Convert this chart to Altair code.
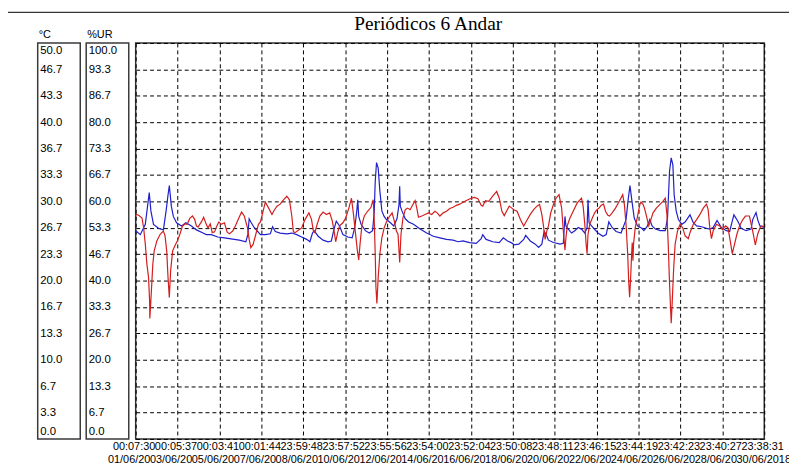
import json
import altair as alt
import pandas as pd

chart_title = "Periódicos 6 Andar"
unit_temp = "°C"
unit_hum = "%UR"

time_labels = ["00:07:30", "00:05:37", "00:03:41", "00:01:44", "23:59:48", "23:57:52",
               "23:55:56", "23:54:00", "23:52:04", "23:50:08", "23:48:11", "23:46:15",
               "23:44:19", "23:42:23", "23:40:27", "23:38:31"]
date_labels = ["01/06/2018", "03/06/2018", "05/06/2018", "07/06/2018", "08/06/2018",
               "10/06/2018", "12/06/2018", "14/06/2018", "16/06/2018", "18/06/2018",
               "20/06/2018", "22/06/2018", "24/06/2018", "26/06/2018", "28/06/2018",
               "30/06/2018"]

span_hours = 719.52   # 01/06 00:07:30 -> 30/06 23:38:31
n_div = 15
temp_max = 50
hum_max = 100

# temperature (blue), hours since start
temp_hours = [0, 5.3, 11.0, 13.6, 15.5, 17.4, 20.4, 26.1, 31.7, 34.8, 37.0, 38.5, 40.8, 43.1,
              46.8, 52.5, 57.4, 63.8, 69.5, 77.1, 80.8, 86.5, 94.0, 101.6, 107.3, 118.6, 126.1,
              128.4, 129.9, 131.8, 135.6, 141.3, 142.8, 148.4, 154.1, 156.7, 159.8, 165.4, 173.0,
              178.7, 184.3, 190.0, 195.7, 199.4, 202.4, 204.3, 208.9, 214.5, 220.2, 224.0, 226.6,
              229.6, 233.4, 237.2, 242.9, 247.8, 250.8, 253.1, 254.2, 255.3, 258.0, 262.9, 267.4,
              271.2, 273.1, 274.2, 275.7, 277.6, 279.5, 281.8, 284.4, 287.0, 291.6, 295.4, 299.1,
              301.4, 302.2, 302.9, 304.8, 308.6, 312.4, 318.0, 325.6, 333.1, 340.7, 348.2, 355.8,
              363.3, 369.0, 374.7, 382.2, 389.8, 395.5, 397.3, 401.1, 408.7, 416.2, 420.8, 425.7,
              431.3, 433.0, 438.5, 444.2, 446.4, 451.7, 457.4, 461.2, 464.9, 467.6, 469.9, 472.5,
              478.2, 485.7, 489.5, 491.4, 492.5, 495.2, 498.9, 502.7, 506.5, 510.3, 514.1, 516.7,
              517.8, 519.0, 523.5, 529.2, 534.8, 538.6, 541.6, 545.4, 549.9, 555.6, 561.3, 563.5,
              565.8, 568.1, 570.7, 574.5, 579.4, 581.7, 585.4, 588.5, 591.1, 594.9, 600.5, 606.2,
              608.8, 611.1, 613.0, 614.9, 616.4, 618.7, 621.3, 625.1, 628.9, 634.5, 638.3, 642.1,
              647.8, 653.4, 657.2, 661.0, 665.5, 670.4, 676.1, 679.9, 682.9, 684.8, 689.3, 693.1,
              698.7, 704.4, 706.3, 710.1, 712.0, 714.6, 719.5]
temp_c = [26.3, 25.8, 27.1, 29.4, 31.1, 28.8, 27.1, 26.6, 26.4, 28.8, 30.8, 32.0, 29.4, 28.1,
          27.3, 26.9, 27.3, 26.9, 26.4, 26.0, 25.8, 25.8, 25.5, 25.4, 25.3, 25.1, 24.9,
          25.8, 27.8, 27.4, 26.7, 26.0, 25.8, 25.8, 25.9, 26.8, 26.2, 26.0, 25.9,
          26.0, 25.8, 25.5, 25.2, 24.9, 26.0, 26.3, 25.6, 25.1, 24.9, 25.0, 26.3,
          27.5, 26.9, 25.8, 25.5, 25.4, 26.7, 28.8, 30.2, 28.1, 27.1, 26.3, 26.0,
          26.3, 28.8, 32.5, 34.9, 34.2, 31.3, 28.8, 28.1, 27.7, 27.3, 26.9, 27.8,
          29.6, 31.9, 29.4, 28.8, 27.8, 27.4, 27.1, 26.5, 26.0, 25.6, 25.4, 25.2,
          25.1, 24.9, 25.0, 24.8, 24.7, 25.3, 25.8, 25.2, 24.9, 24.8, 25.4, 25.0,
          24.7, 24.5, 24.6, 25.2, 25.7, 25.0, 24.6, 24.2, 24.6, 26.2, 25.8, 25.1,
          24.8, 24.6, 24.7, 28.1, 26.9, 26.5, 26.0, 26.3, 26.7, 26.5, 26.0, 26.7,
          30.2, 27.3, 26.7, 26.0, 25.6, 25.8, 27.4, 26.7, 26.2, 26.0, 27.7, 30.0,
          32.0, 30.0, 27.9, 26.9, 26.6, 26.3, 26.8, 27.7, 26.9, 26.5, 26.3, 26.3,
          27.9, 33.8, 35.5, 34.6, 30.8, 28.8, 27.7, 27.1, 27.4, 28.3, 27.3, 26.9,
          26.8, 26.6, 26.5, 26.7, 27.6, 26.7, 26.3, 26.2, 27.5, 28.3, 27.5, 26.6,
          26.3, 26.5, 27.7, 28.6, 27.7, 26.9, 26.7]

# relative humidity (red), hours since start
hum_hours = [0, 3.4, 7.2, 9.1, 11.0, 12.8, 14.7, 15.9, 16.2, 17.8, 19.6, 21.2, 24.2, 28.0, 31.7,
             33.6, 35.5, 37.0, 38.5, 40.0, 42.3, 44.9, 47.6, 50.6, 53.6, 56.3, 58.9, 61.9, 65.0,
             67.6, 69.5, 71.4, 73.3, 75.2, 77.8, 80.1, 82.7, 85.4, 87.6, 90.3, 92.9, 95.2, 97.8,
             101.6, 104.6, 107.3, 111.0, 114.1, 117.8, 121.2, 124.3, 128.0, 129.9, 131.8, 134.5,
             137.5, 140.5, 142.8, 145.8, 148.4, 152.2, 156.0, 157.9, 161.7, 165.4, 169.2, 173.0,
             176.0, 178.7, 180.5, 182.4, 186.2, 190.0, 193.8, 198.3, 201.3, 203.2, 205.1, 207.7,
             210.8, 214.5, 218.3, 222.1, 225.1, 227.4, 228.9, 231.2, 233.4, 237.2, 240.2, 244.0,
             247.0, 249.3, 251.5, 253.8, 255.3, 256.8, 259.1, 261.7, 265.5, 269.3, 271.9, 273.1,
             274.2, 275.0, 276.1, 277.6, 279.5, 281.8, 284.4, 287.0, 290.8, 293.5, 296.1, 298.4,
             300.3, 302.2, 303.7, 305.9, 308.6, 311.2, 314.2, 317.3, 319.9, 321.8, 323.7, 327.5,
             331.2, 335.0, 338.8, 342.6, 345.2, 348.2, 352.0, 355.8, 359.6, 363.3, 367.1, 370.9,
             374.7, 380.3, 384.1, 387.9, 391.7, 395.5, 397.3, 400.4, 404.1, 408.7, 413.2, 416.2,
             419.2, 421.9, 424.5, 427.6, 430.6, 432.8, 436.6, 440.4, 444.2, 447.2, 451.7, 455.5,
             459.3, 462.3, 464.9, 466.8, 468.7, 470.6, 472.5, 475.1, 478.2, 481.2, 484.6, 487.6,
             489.5, 491.4, 492.5, 494.0, 497.1, 500.8, 505.4, 510.3, 512.2, 514.1, 515.6, 516.7,
             517.8, 519.7, 522.7, 525.4, 528.0, 530.3, 532.9, 535.6, 537.8, 540.5, 542.4, 545.4,
             549.2, 553.0, 557.5, 559.4, 561.3, 563.2, 564.3, 565.4, 566.6, 567.7, 568.4, 569.2,
             569.9, 571.8, 574.5, 577.1, 578.5, 580.9, 582.4, 584.7, 587.3, 589.2, 592.2, 596.0,
             599.8, 603.6, 606.2, 608.1, 609.6, 611.1, 613.0, 614.1, 615.7, 617.5, 620.2, 623.2,
             626.2, 628.9, 632.6, 634.5, 638.3, 642.1, 645.9, 649.7, 653.4, 655.3, 657.2, 659.1,
             661.0, 664.8, 668.5, 671.6, 675.3, 678.0, 680.6, 682.9, 685.5, 688.2, 691.2, 695.0,
             698.0, 702.5, 706.3, 709.3, 712.0, 714.6, 716.9, 719.5]
hum_pct = [56.7, 56.5, 55.8, 53.3, 49.2, 44.2, 40.8, 35.0, 30.4, 36.7, 44.2, 47.5, 50.0, 51.7, 52.5,
           51.3, 47.5, 40.8, 35.7, 42.5, 47.5, 48.8, 50.0, 51.7, 53.8, 54.3, 54.2, 55.7, 56.3,
           55.4, 53.8, 53.5, 54.2, 54.8, 56.0, 54.6, 53.3, 54.3, 52.1, 52.3, 53.8, 54.8, 54.2,
           54.6, 52.3, 51.8, 52.5, 53.8, 55.7, 57.3, 56.3, 53.3, 50.4, 48.3, 49.2,
           51.7, 54.2, 54.8, 57.5, 59.8, 58.3, 56.7, 57.5, 58.8, 59.3, 60.4, 61.3,
           60.4, 56.3, 52.3, 52.1, 52.7, 53.3, 55.4, 57.1, 55.4, 52.7, 52.1, 54.2,
           56.3, 57.3, 56.7, 57.1, 55.0, 52.1, 49.8, 52.1, 53.8, 54.6, 55.7, 58.3,
           60.8, 56.7, 52.1, 47.5, 45.2, 49.2, 54.2, 56.3, 57.5, 58.5, 60.4, 55.0,
           46.7, 38.3, 34.2, 40.8, 46.7, 50.8, 53.3, 54.8, 56.3, 57.1, 55.0, 52.5,
           51.7, 44.6, 51.7, 55.8, 57.9, 58.3, 57.9, 59.2, 60.2, 58.3, 56.0, 56.3,
           56.7, 57.1, 56.7, 57.5, 57.1, 56.3, 57.1, 57.5, 58.2, 58.5, 59.0, 59.3,
           59.8, 60.4, 60.8, 61.0, 60.7, 59.0, 58.8, 60.2, 60.0, 61.3, 62.5, 60.8,
           57.5, 56.4, 57.5, 58.8, 58.3, 57.9, 57.5, 55.4, 53.8, 55.0, 56.7, 57.9,
           58.8, 59.2, 56.7, 53.8, 50.4, 52.5, 53.8, 57.1, 59.2, 60.8, 61.7, 58.3,
           52.5, 47.7, 50.8, 53.8, 55.8, 57.5, 59.6, 60.8, 58.8, 54.2, 49.2, 46.8,
           51.7, 54.2, 55.8, 57.1, 57.9, 58.3, 59.0, 59.3, 57.5, 56.5, 56.3, 57.1,
           58.3, 59.8, 61.7, 59.2, 54.2, 46.7, 40.0, 35.8, 40.8, 46.7, 49.6, 45.0,
           49.2, 53.3, 56.3, 59.2, 59.8, 59.2, 58.3, 56.3, 53.8, 55.0, 57.1, 58.3,
           59.2, 60.0, 60.8, 56.7, 49.2, 39.2, 29.2, 34.2, 42.5, 49.2, 52.5, 54.2,
           53.3, 51.3, 50.6, 52.1, 54.2, 55.4, 56.7, 58.3, 59.3, 57.9, 53.3, 50.6,
           52.5, 54.2, 53.8, 52.9, 53.8, 53.3, 50.0, 46.8, 49.2, 51.7, 53.8, 55.4,
           56.3, 56.3, 52.5, 49.0, 51.7, 53.3, 53.8, 53.5]

step = span_hours / n_div
x_ticks = [i * step for i in range(n_div + 1)]
temp_ticks = [i * temp_max / n_div for i in range(n_div + 1)]
hum_ticks = [i * hum_max / n_div for i in range(n_div + 1)]

temp_df = pd.DataFrame({"h": temp_hours, "t": temp_c})
hum_df = pd.DataFrame({"h": hum_hours, "u": hum_pct})
xlab_df = pd.DataFrame({"h": x_ticks, "time": time_labels, "date": date_labels,
                        "i": list(range(n_div + 1))})
one = pd.DataFrame({"k": [0]})

FONT = "Liberation Sans"

x_enc = alt.X("h:Q", scale=alt.Scale(domain=[0, span_hours], nice=False, zero=False),
              axis=alt.Axis(values=x_ticks, labels=False, title=None, grid=True,
                            gridDash=[4, 3], gridColor="#000000", gridWidth=1, gridOpacity=1,
                            domain=False, ticks=False, tickSize=0))


def y_axis(offset, ticks, grid):
    return alt.Axis(orient="left", offset=offset, values=ticks, format=".1f", title=None,
                    grid=grid, gridDash=[4, 3], gridColor="#000000", gridWidth=1, gridOpacity=1,
                    domain=False, ticks=False, tickSize=0, labelAlign="left", labelPadding=-2,
                    labelFlush=True, labelFlushOffset=-2, labelOverlap=False,
                    labelFont=FONT, labelFontSize=11.5, labelColor="#000000")


temp_line = alt.Chart(temp_df).mark_line(color="#1f1fcc", strokeWidth=1.2).encode(
    x=x_enc,
    y=alt.Y("t:Q", scale=alt.Scale(domain=[0, temp_max], nice=False, zero=False),
            axis=y_axis(99, temp_ticks, True)))

hum_line = alt.Chart(hum_df).mark_line(color="#d41e1e", strokeWidth=1.2).encode(
    x=x_enc,
    y=alt.Y("u:Q", scale=alt.Scale(domain=[0, hum_max], nice=False, zero=False),
            axis=y_axis(50, hum_ticks, False)))


def x_label_row(field, dx, ypix, last):
    base = alt.Chart(xlab_df)
    if last:
        mk = base.mark_text(align="left", baseline="middle", dx=dx, font=FONT, fontSize=11,
                            color="#000000").transform_filter(alt.datum.i == n_div)
    else:
        # each label is overdrawn by the next one in the reference: keep what shows
        mk = base.mark_text(align="left", baseline="middle", dx=dx, font=FONT, fontSize=11,
                            color="#000000", limit=46, ellipsis=" ").transform_filter(
            alt.datum.i < n_div)
    return mk.encode(x=x_enc, y=alt.value(ypix), text=alt.Text(field + ":N"))


def deco_rect(x1, x2, y1, y2, stroke, sw):
    return alt.Chart(one).mark_rect(fillOpacity=0, stroke=stroke, strokeWidth=sw).encode(
        x=alt.value(x1), x2=alt.value(x2), y=alt.value(y1), y2=alt.value(y2))


def deco_text(txt, x, y, font, size):
    return alt.Chart(one).mark_text(text=txt, font=font, fontSize=size, align="left",
                                    baseline="alphabetic", color="#000000").encode(
        x=alt.value(x), y=alt.value(y))


frame = deco_rect(-130, 700, -31, 480, "#000000", 1)
box_temp = deco_rect(-99, -56, 0, 400, "#3a3a3a", 1.5)
box_hum = deco_rect(-50, -7, 0, 400, "#3a3a3a", 1.5)
lbl_temp = deco_text(unit_temp, -98, -5, FONT, 11)
lbl_hum = deco_text(unit_hum, -49, -5, FONT, 11)
title_mark = alt.Chart(one).mark_text(text=chart_title, font="Liberation Serif", fontSize=19.5,
                                      align="center", baseline="alphabetic",
                                      color="#000000").encode(x=alt.value(295.5), y=alt.value(-12.7))

time_row = x_label_row("time", -23, 408, False)
time_row_last = x_label_row("time", -23, 408, True)
date_row = x_label_row("date", -28, 421, False)
date_row_last = x_label_row("date", -28, 421, True)

chart = alt.layer(frame, box_temp, box_hum, lbl_temp, lbl_hum, title_mark, temp_line, hum_line,
                  time_row, time_row_last, date_row, date_row_last
                  ).resolve_scale(y="independent").properties(
    width=635, height=400,
    padding={"left": 129, "top": 33, "right": 25, "bottom": 27},
    autosize=alt.AutoSizeParams(type="none"),
    background="#ffffff"
).configure_view(stroke="#333333", strokeWidth=1.5)

chart.save("out.html", embed_options={"renderer": "svg", "actions": False})
